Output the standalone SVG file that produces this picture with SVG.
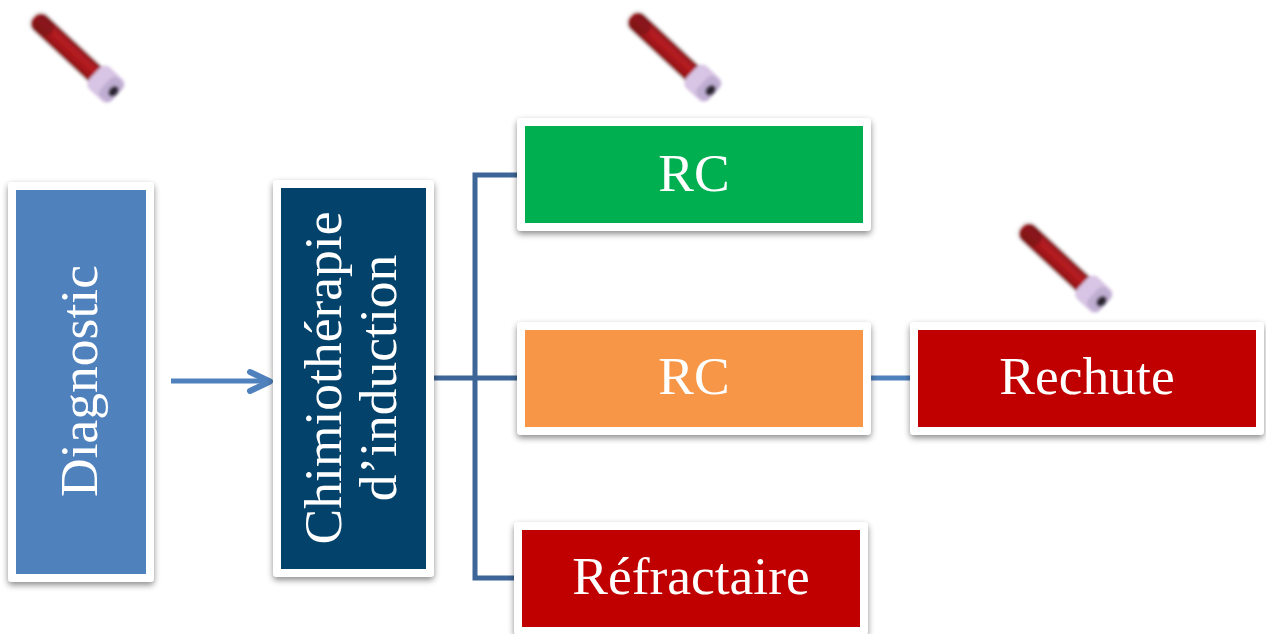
<svg xmlns="http://www.w3.org/2000/svg" width="1266" height="634" viewBox="0 0 1266 634">
<style>
.card{fill:#fff;filter:url(#sh)}
text{font-family:"Liberation Serif","Times New Roman",serif;fill:#fff;font-size:53.5px;text-anchor:middle}
.c{fill:none;stroke:#3e6597;stroke-width:5}
</style>
<defs>
<filter id="sh" x="-10%" y="-10%" width="120%" height="120%"><feDropShadow dx="0" dy="3" stdDeviation="3" flood-color="#000" flood-opacity=".45"/></filter>
<filter id="bl" x="-20%" y="-30%" width="140%" height="160%"><feGaussianBlur stdDeviation="1.5"/></filter>
<linearGradient id="blood" x1="0" y1="0" x2="0" y2="1"><stop offset="0" stop-color="#8a1a20"/><stop offset=".4" stop-color="#b81c20"/><stop offset="1" stop-color="#8c1015"/></linearGradient>
<g id="tube"><g filter="url(#bl)">
<rect x="-6" y="-12" width="94" height="24" rx="10" fill="#eee" opacity=".5"/>
<rect x="-3" y="-10" width="92" height="20" rx="9" fill="url(#blood)"/>
<rect x="-1" y="-8" width="22" height="16" rx="8" fill="#6e1418" opacity=".6"/>
<rect x="80" y="-15" width="31" height="30" rx="7" fill="#d8c4e4"/>
<rect x="95" y="-13" width="16" height="26" rx="6" fill="#bfaed2"/>
<ellipse cx="106" cy="0" rx="4.500" ry="6" fill="#2b2630"/>
</g></g>
</defs>
<g id="connectors">
<path class="c" style="stroke:#4f81bd" d="M171 381H270"/>
<path style="fill:none;stroke:#4f81bd;stroke-width:6;stroke-linecap:round;stroke-linejoin:round" d="M250 372L270 381.500L250 391"/>
<path class="c" d="M434 378H517M517 175H475V578H517"/>
<path class="c" style="stroke:#4f81bd" d="M871 378H910"/>
</g>
<g id="tube1"><use href="#tube" transform="translate(36 19) rotate(43)"/></g>
<g id="tube2"><use href="#tube" transform="translate(633 18) rotate(43)"/></g>
<g id="tube3"><use href="#tube" transform="translate(1024 229) rotate(43)"/></g>
<g id="diagnostic"><rect class="card" x="8" y="182" width="146" height="400" rx="4"/><rect x="16" y="190" width="130" height="384" fill="#4f81bd"/><text transform="translate(97 381) rotate(-90)">Diagnostic</text></g>
<g id="chimio"><rect class="card" x="273" y="180" width="161" height="397" rx="4"/><rect x="281" y="188" width="145" height="381" fill="#03426a"/><text transform="translate(341 378) rotate(-90)">Chimiothérapie</text><text transform="translate(396 378) rotate(-90)">d’induction</text></g>
<g id="rc1"><rect class="card" x="517" y="118" width="354" height="113" rx="4"/><rect x="525" y="126" width="338" height="97" fill="#00b050"/><text x="694" y="191">RC</text></g>
<g id="rc2"><rect class="card" x="517" y="322" width="354" height="113" rx="4"/><rect x="525" y="330" width="338" height="97" fill="#f79646"/><text x="694" y="394">RC</text></g>
<g id="rechute"><rect class="card" x="910" y="322" width="354" height="113" rx="4"/><rect x="918" y="330" width="338" height="97" fill="#c00000"/><text x="1087" y="394">Rechute</text></g>
<g id="refractaire"><rect class="card" x="514" y="522" width="354" height="113" rx="4"/><rect x="522" y="530" width="338" height="97" fill="#c00000"/><text x="691" y="594">Réfractaire</text></g>
</svg>
